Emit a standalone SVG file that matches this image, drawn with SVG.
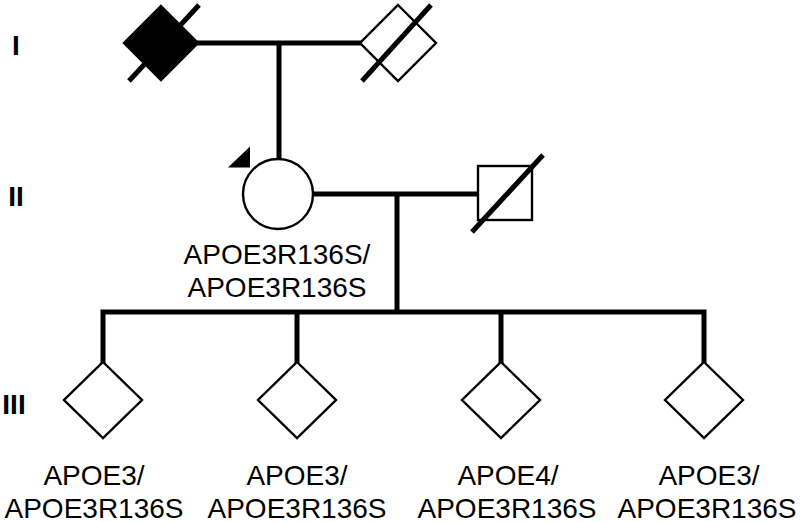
<svg xmlns="http://www.w3.org/2000/svg" width="800" height="522" viewBox="0 0 800 522">
<style>
.sym{fill:#fff;stroke:#000;stroke-width:2.4}
.aff{fill:#000;stroke:#000;stroke-width:2.4}
.dead{stroke:#000;stroke-width:5;fill:none}
.conn{stroke:#000;stroke-width:5;fill:none;stroke-linejoin:miter;stroke-linecap:butt}
.lbl{font-family:"Liberation Sans",Arial,sans-serif;font-size:28px;fill:#000;text-anchor:middle}
.gen{font-family:"Liberation Sans",Arial,sans-serif;font-size:28px;font-weight:bold;fill:#000;text-anchor:middle}
</style>
<rect width="800" height="522" fill="#fff"/>
<g id="connectors">
<line class="conn" x1="197" y1="43" x2="361" y2="43"/>
<line class="conn" x1="279" y1="43" x2="279" y2="160"/>
<line class="conn" x1="313" y1="194" x2="478" y2="194"/>
<line class="conn" x1="397" y1="194" x2="397" y2="312"/>
<polyline class="conn" points="103,363 103,312 704,312 704,363"/>
<line class="conn" x1="297" y1="312" x2="297" y2="363"/>
<line class="conn" x1="501" y1="312" x2="501" y2="363"/>
</g>
<g id="gen-labels">
<text class="gen" x="16" y="55">I</text>
<text class="gen" x="16" y="206">II</text>
<text class="gen" x="14" y="414">III</text>
</g>
<g id="I-1">
<polygon class="aff" points="161,6 198,43 161,80 124,43"/>
<line class="dead" x1="129" y1="81" x2="199" y2="5"/>
</g>
<g id="I-2">
<polygon class="sym" points="398,5 436,43 398,81 360,43"/>
<line class="dead" x1="362" y1="81" x2="431" y2="5"/>
</g>
<g id="II-1">
<polygon points="228,167.5 250,146.5 250,167.5" fill="#000"/>
<circle class="sym" cx="278" cy="194" r="35"/>
<text class="lbl" x="277" y="264">APOE3R136S/</text>
<text class="lbl" x="277" y="296.5">APOE3R136S</text>
</g>
<g id="II-2">
<rect class="sym" x="478" y="166" width="54" height="54"/>
<line class="dead" x1="472" y1="232" x2="543" y2="155"/>
</g>
<g id="III-1">
<polygon class="sym" points="103,362 142,400 103,438 64,400"/>
<text class="lbl" x="94" y="485">APOE3/</text>
<text class="lbl" x="94" y="517.5">APOE3R136S</text>
</g>
<g id="III-2">
<polygon class="sym" points="297,362 336,400 297,438 258,400"/>
<text class="lbl" x="297" y="485">APOE3/</text>
<text class="lbl" x="297" y="517.5">APOE3R136S</text>
</g>
<g id="III-3">
<polygon class="sym" points="501,362 540,400 501,438 462,400"/>
<text class="lbl" x="508" y="485">APOE4/</text>
<text class="lbl" x="507" y="517.5">APOE3R136S</text>
</g>
<g id="III-4">
<polygon class="sym" points="704,362 743,400 704,438 665,400"/>
<text class="lbl" x="709" y="485">APOE3/</text>
<text class="lbl" x="707" y="517.5">APOE3R136S</text>
</g>
</svg>
